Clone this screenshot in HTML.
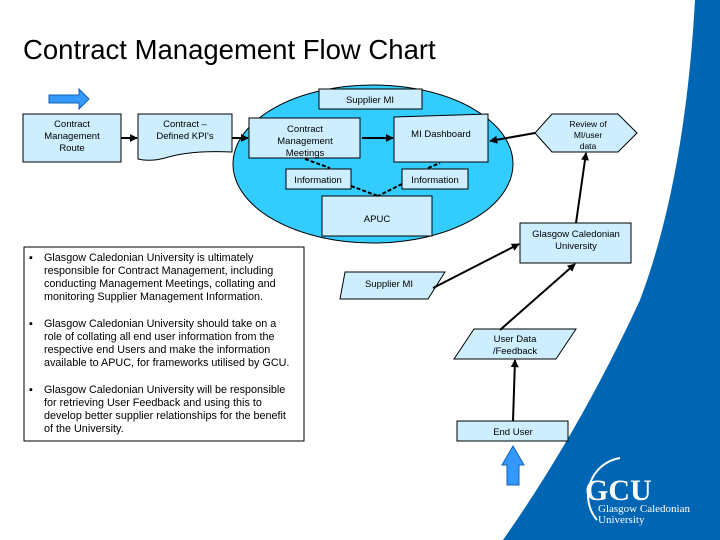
<!DOCTYPE html>
<html><head><style>body{margin:0}svg{display:block}text{font-family:"Liberation Sans",sans-serif}</style></head><body>
<svg width="720" height="540" viewBox="0 0 720 540" xmlns="http://www.w3.org/2000/svg">
<defs><marker id="a" viewBox="0 0 10 10" refX="9" refY="5" markerWidth="4" markerHeight="4" orient="auto"><path d="M0,0L10,5L0,10z" fill="#000"/></marker></defs>
<rect width="720" height="540" fill="#fff"/>
<path d="M695,0 Q685,180 640,300 Q580,430 503,540 L720,540 L720,0Z" fill="#0066b3"/>
<text x="23" y="59" font-size="27.5">Contract Management Flow Chart</text>
<ellipse cx="373" cy="164" rx="140" ry="79" fill="#33ccff" stroke="#000" stroke-width="1"/>
<path d="M49,95H79V89L89,99L79,109V103H49Z" fill="#3399ff" stroke="#1060b0"/>
<path d="M507,465H502L513,446L524,465H519V485H507Z" fill="#3399ff" stroke="#1060b0"/>
<g fill="#cceeff" stroke="#000" stroke-width="1">
<rect x="23" y="114" width="98" height="48"/>
<path d="M138,114H232V152Q190,150 165,158Q150,162 138,159Z"/>
<rect x="249" y="118" width="111" height="40"/>
<rect x="319" y="89" width="103" height="20"/>
<path d="M394,117L488,114V162H394Z"/>
<rect x="286" y="169" width="65" height="20"/>
<rect x="402" y="169" width="66" height="20"/>
<rect x="322" y="196" width="110" height="40"/>
<path d="M535,133L552,114H618L637,133L618,152H552Z"/>
<rect x="520" y="223" width="111" height="40"/>
<path d="M345,272H445L428,299H340Z"/>
<path d="M474,329H576L556,359H454Z"/>
<rect x="457" y="421" width="111" height="20"/>
<rect x="24" y="247" width="280" height="194" fill="#fff"/>
</g>
<g stroke="#000" stroke-width="2" fill="none">
<line x1="121" y1="138" x2="137" y2="138" marker-end="url(#a)"/>
<line x1="232" y1="138" x2="248" y2="138" marker-end="url(#a)"/>
<line x1="362" y1="138" x2="393" y2="138" marker-end="url(#a)"/>
<line x1="535" y1="133" x2="490" y2="141" marker-end="url(#a)"/>
<line x1="576" y1="223" x2="586" y2="153" marker-end="url(#a)"/>
<line x1="433" y1="288" x2="519" y2="244" marker-end="url(#a)"/>
<line x1="500" y1="330" x2="575" y2="264" marker-end="url(#a)"/>
<line x1="513" y1="421" x2="515" y2="360" marker-end="url(#a)"/>
<g stroke-dasharray="4,2"><line x1="305" y1="159" x2="330" y2="168"/><line x1="351" y1="186" x2="378" y2="196"/><line x1="402" y1="184" x2="378" y2="196"/><line x1="428" y1="168" x2="440" y2="163"/></g>
</g>
<g font-size="9.5" text-anchor="middle">
<text x="72" y="127">Contract</text><text x="72" y="139">Management</text><text x="72" y="151">Route</text>
<text x="185" y="127">Contract –</text><text x="185" y="139">Defined KPI's</text>
<text x="305" y="132">Contract</text><text x="305" y="144">Management</text><text x="305" y="156">Meetings</text>
<text x="370" y="103">Supplier MI</text>
<text x="441" y="137">MI Dashboard</text>
<text x="318" y="183">Information</text>
<text x="435" y="183">Information</text>
<text x="377" y="222">APUC</text>
<text x="588" y="127" font-size="8.5">Review of</text><text x="588" y="138" font-size="8.5">MI/user</text><text x="588" y="149" font-size="8.5">data</text>
<text x="576" y="237">Glasgow Caledonian</text><text x="576" y="249">University</text>
<text x="389" y="287">Supplier MI</text>
<text x="515" y="342">User Data</text><text x="515" y="354">/Feedback</text>
<text x="513" y="435">End User</text>
</g>
<g font-size="10.8">
<text x="29" y="261">▪</text><text x="44" y="261">Glasgow Caledonian University is ultimately</text>
<text x="44" y="274">responsible for Contract Management, including</text>
<text x="44" y="287">conducting Management Meetings, collating and</text>
<text x="44" y="300">monitoring Supplier Management Information.</text>
<text x="29" y="327">▪</text><text x="44" y="327">Glasgow Caledonian University should take on a</text>
<text x="44" y="340">role of collating all end user information from the</text>
<text x="44" y="353">respective end Users and make the information</text>
<text x="44" y="366">available to APUC, for frameworks utilised by GCU.</text>
<text x="29" y="393">▪</text><text x="44" y="393">Glasgow Caledonian University will be responsible</text>
<text x="44" y="406">for retrieving User Feedback and using this to</text>
<text x="44" y="419">develop better supplier relationships for the benefit</text>
<text x="44" y="432">of the University.</text>
</g>
<path d="M620,458 A38,38 0 0 0 597,520" stroke="#fff" stroke-width="2" fill="none"/>
<text x="585" y="500" font-size="30" font-weight="bold" fill="#fff" style="font-family:'Liberation Serif',serif">GCU</text>
<text x="598" y="512" font-size="11" fill="#fff" style="font-family:'Liberation Serif',serif">Glasgow Caledonian</text>
<text x="598" y="523" font-size="11" fill="#fff" style="font-family:'Liberation Serif',serif">University</text>
</svg>
</body></html>
